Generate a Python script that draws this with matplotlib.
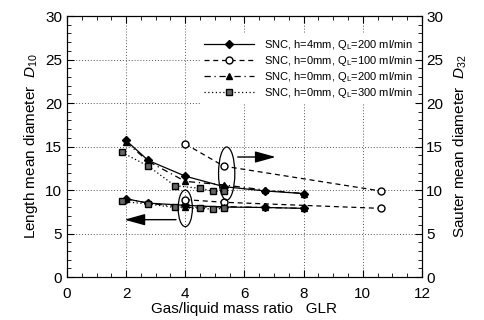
import matplotlib
matplotlib.use("Agg")
import matplotlib.pyplot as plt
from matplotlib.patches import Ellipse
from matplotlib.ticker import MultipleLocator

plt.rcParams['font.family'] = ['Liberation Sans', 'DejaVu Sans']
plt.rcParams['mathtext.fontset'] = 'custom'
plt.rcParams['mathtext.rm'] = 'Liberation Sans'
plt.rcParams['mathtext.it'] = 'Liberation Sans:italic'

# Series 1: SNC, h=4mm, QL=200 ml/min
s1_x = [2.0, 2.75, 4.0, 5.3, 6.7, 8.0]
s1_d32 = [15.7, 13.4, 11.6, 10.4, 9.9, 9.6]
s1_d10 = [9.0, 8.5, 8.25, 8.05, 8.0, 7.9]
# Series 2: SNC, h=0mm, QL=100 ml/min
s2_x = [4.0, 5.3, 10.6]
s2_d32 = [15.3, 12.75, 9.9]
s2_d10 = [8.9, 8.6, 7.9]
# Series 3: SNC, h=0mm, QL=200 ml/min
s3_x = [2.0, 2.75, 4.0, 5.3, 6.7, 8.0]
s3_d32 = [15.5, 13.3, 11.0, 10.6, 10.0, 9.6]
s3_d10 = [9.0, 8.5, 8.0, 8.1, 8.0, 7.9]
# Series 4: SNC, h=0mm, QL=300 ml/min
s4_x = [1.85, 2.75, 3.65, 4.5, 4.95, 5.3]
s4_d32 = [14.35, 12.75, 10.5, 10.2, 9.85, 9.9]
s4_d10 = [8.7, 8.4, 8.0, 7.9, 7.8, 7.9]

labels = [r'SNC, h=4mm, Q$_\mathrm{L}$=200 ml/min',
          r'SNC, h=0mm, Q$_\mathrm{L}$=100 ml/min',
          r'SNC, h=0mm, Q$_\mathrm{L}$=200 ml/min',
          r'SNC, h=0mm, Q$_\mathrm{L}$=300 ml/min']

fig = plt.figure(figsize=(4.85, 3.2), dpi=100)
ax = fig.add_axes([0.138, 0.134, 0.732, 0.816])

styles = [
    dict(ls='-', marker='D', ms=3.8, mfc='black', mec='black'),
    dict(ls=(0, (4, 3)), marker='o', ms=5, mfc='white', mec='black'),
    dict(ls=(0, (5, 3, 1, 3)), marker='^', ms=5, mfc='black', mec='black'),
    dict(ls=(0, (1, 2)), marker='s', ms=5, mfc='#666666', mec='black'),
]
data = [(s1_x, s1_d32, s1_d10), (s2_x, s2_d32, s2_d10),
        (s3_x, s3_d32, s3_d10), (s4_x, s4_d32, s4_d10)]

handles = []
for (x, d32, d10), st, lab in zip(data, styles, labels):
    h, = ax.plot(x, d32, color='black', lw=0.9, label=lab, **st)
    ax.plot(x, d10, color='black', lw=0.9, **st)
    handles.append(h)

ax.set_xlim(0, 12)
ax.set_ylim(0, 30)
ax.xaxis.set_major_locator(MultipleLocator(2))
ax.xaxis.set_minor_locator(MultipleLocator(0.5))
ax.yaxis.set_major_locator(MultipleLocator(5))
ax.yaxis.set_minor_locator(MultipleLocator(1))
ax.tick_params(which='both', direction='in', top=True)
ax.tick_params(which='major', length=5, labelsize=11)
ax.tick_params(axis='x', which='major', pad=7)
ax.tick_params(which='minor', length=3)
ax.grid(True, which='major', ls=(0, (1, 2)), color='#555555', lw=0.7)

ax2 = ax.twinx()
ax2.set_ylim(0, 30)
ax2.yaxis.set_major_locator(MultipleLocator(5))
ax2.yaxis.set_minor_locator(MultipleLocator(1))
ax2.tick_params(which='both', direction='in')
ax2.tick_params(which='major', length=5, labelsize=11, pad=3)
ax2.tick_params(which='minor', length=3)

ax.set_xlabel('Gas/liquid mass ratio   GLR', fontsize=11, labelpad=1)
ax.set_ylabel(r'Length mean diameter  $D_{10}$', fontsize=11, labelpad=4)
ax2.set_ylabel(r'Sauter mean diameter  $D_{32}$', fontsize=11, labelpad=6)

# annotations
ax.add_patch(Ellipse((5.4, 11.9), 0.55, 6.1, fill=False, color='black', lw=0.9, zorder=5))
ax.add_patch(Ellipse((4.0, 7.9), 0.48, 4.2, fill=False, color='black', lw=0.9, zorder=5))
ax.annotate('', xy=(7.15, 13.8), xytext=(5.68, 13.8),
            arrowprops=dict(arrowstyle='-|>,head_length=0.9,head_width=0.25',
                            color='black', lw=1.0, mutation_scale=14), zorder=6)
ax.annotate('', xy=(1.85, 6.6), xytext=(3.78, 6.6),
            arrowprops=dict(arrowstyle='-|>,head_length=0.9,head_width=0.25',
                            color='black', lw=1.0, mutation_scale=14), zorder=6)

leg = ax.legend(handles=handles, loc='upper right', bbox_to_anchor=(0.985, 0.93),
                fontsize=8, frameon=True, framealpha=1, edgecolor='none',
                fancybox=False, handlelength=4.5, handletextpad=0.9,
                labelspacing=0.2, borderaxespad=0.0, borderpad=0.3)

fig.savefig('out.png', dpi=100)
